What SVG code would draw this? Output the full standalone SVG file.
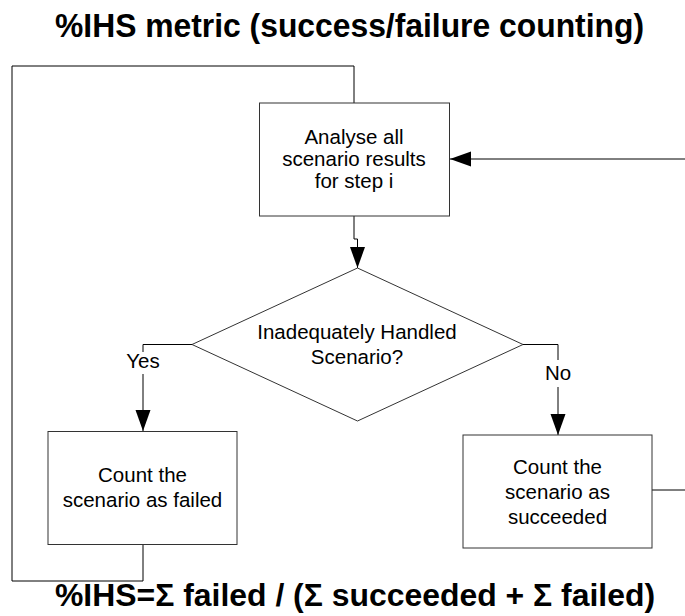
<svg xmlns="http://www.w3.org/2000/svg" width="685" height="616" viewBox="0 0 685 616">
<style>
.box{fill:#fff;stroke:#333;stroke-width:1}
.ln{fill:none;stroke:#000;stroke-width:1}
.t{font-family:"Liberation Sans",Arial,sans-serif;font-size:20.5px;fill:#000;text-anchor:middle}
.h{font-family:"Liberation Sans",Arial,sans-serif;font-size:34px;font-weight:bold;fill:#000;text-anchor:middle}
.hb{font-family:"Liberation Sans",Arial,sans-serif;font-size:32px;font-weight:bold;fill:#000;text-anchor:middle}
</style>
<defs>
<marker id="arr" markerUnits="userSpaceOnUse" markerWidth="22" markerHeight="16" refX="21" refY="7.5" orient="auto">
<path d="M0,0 L21,7.5 L0,15 Z" fill="#000"/>
</marker>
</defs>
<rect width="685" height="616" fill="#fff"/>
<text class="h" x="349.5" y="37" textLength="589" lengthAdjust="spacingAndGlyphs">%IHS metric (success/failure counting)</text>
<g id="connectors">
<path class="ln" d="M143,544 V581 H12 V66 H354 V103"/>
<path class="ln" d="M685,159 H450" marker-end="url(#arr)"/>
<path class="ln" d="M354,216 V239 H357.5 V268" marker-end="url(#arr)"/>
<path class="ln" d="M192,344.5 H143 V352"/>
<path class="ln" d="M143,374 V431" marker-end="url(#arr)"/>
<path class="ln" d="M523,344.5 H558 V360"/>
<path class="ln" d="M558,387 V435" marker-end="url(#arr)"/>
<path class="ln" d="M652,490 H685"/>
</g>
<g id="analyse">
<rect class="box" x="259.5" y="103" width="190" height="113"/>
<text class="t" x="354" y="144">Analyse all</text>
<text class="t" x="354" y="166">scenario results</text>
<text class="t" x="354" y="188">for step i</text>
</g>
<g id="decision">
<polygon class="box" points="357.5,268 523,344.5 357.5,421 192,344.5"/>
<text class="t" x="357" y="339">Inadequately Handled</text>
<text class="t" x="357" y="364">Scenario?</text>
</g>
<g id="labels">
<text class="t" x="143" y="368">Yes</text>
<text class="t" x="558" y="380">No</text>
</g>
<g id="failed">
<rect class="box" x="48" y="431.5" width="189" height="113"/>
<text class="t" x="142.5" y="482">Count the</text>
<text class="t" x="142.5" y="507">scenario as failed</text>
</g>
<g id="succeeded">
<rect class="box" x="463" y="435" width="189" height="113"/>
<text class="t" x="557.5" y="474">Count the</text>
<text class="t" x="557.5" y="499">scenario as</text>
<text class="t" x="557.5" y="524">succeeded</text>
</g>
<text class="hb" x="355" y="606" textLength="600" lengthAdjust="spacingAndGlyphs">%IHS=Σ failed / (Σ succeeded + Σ failed)</text>
</svg>
